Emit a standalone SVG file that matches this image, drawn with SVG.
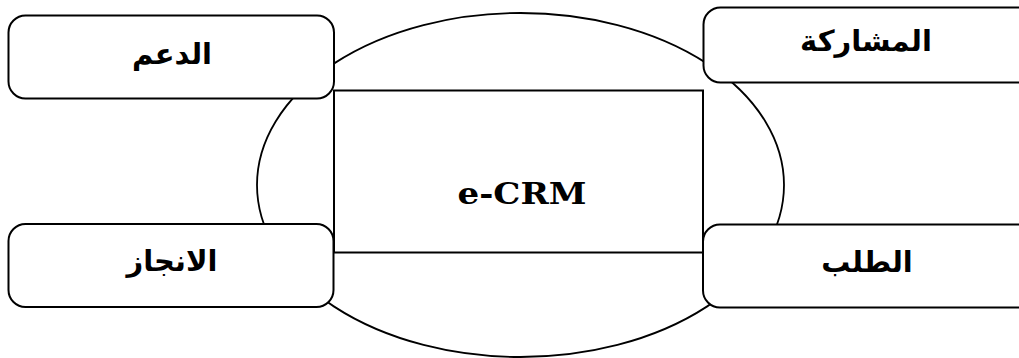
<svg xmlns="http://www.w3.org/2000/svg" width="1019" height="358" viewBox="0 0 1019 358">
  <style>
    .outline { fill: #ffffff; stroke: #000000; stroke-width: 2; }
    .ring { fill: #ffffff; stroke: #000000; stroke-width: 1.8; }
    .ar { font-family: "DejaVu Sans", sans-serif; font-weight: bold; font-size: 29px; fill: #000000; text-anchor: middle; direction: rtl; }
    .lat { font-family: "DejaVu Serif", "Liberation Serif", serif; font-weight: bold; font-size: 30px; fill: #000000; text-anchor: middle; }
  </style>

  <!-- background ellipse behind the core -->
  <ellipse class="ring" cx="520.5" cy="185" rx="263.5" ry="172"/>

  <!-- central box -->
  <g id="ecrm">
    <rect class="outline" x="334" y="90.5" width="369" height="162"/>
    <text class="lat" x="522" y="204" textLength="129" lengthAdjust="spacingAndGlyphs">e-CRM</text>
  </g>

  <!-- corner boxes -->
  <g id="support">
    <rect class="outline" x="8.5" y="15.5" width="325.5" height="83" rx="17" ry="17"/>
    <text class="ar" x="172" y="64">الدعم</text>
  </g>

  <g id="participation">
    <rect class="outline" x="703.5" y="7.5" width="340" height="75" rx="17" ry="17"/>
    <text class="ar" x="866" y="51">المشاركة</text>
  </g>

  <g id="completion">
    <rect class="outline" x="8.5" y="224" width="325" height="83" rx="17" ry="17"/>
    <text class="ar" x="172" y="271">الانجاز</text>
  </g>

  <g id="request">
    <rect class="outline" x="703" y="224.5" width="340" height="83" rx="17" ry="17"/>
    <text class="ar" x="867" y="272">الطلب</text>
  </g>

  <g id="connectors"/>
</svg>
